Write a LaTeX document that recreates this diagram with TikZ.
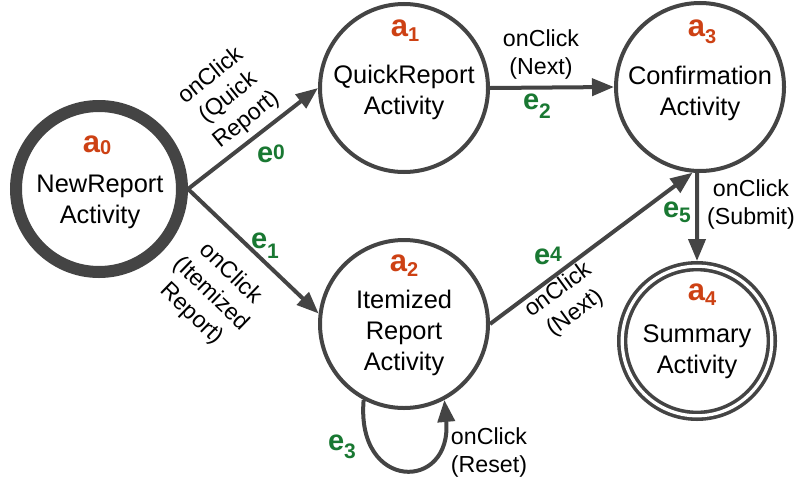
\documentclass[tikz,border=0pt]{standalone}
\usepackage{fontspec}
\setmainfont{Liberation Sans}
\usetikzlibrary{arrows.meta}

\definecolor{ink}{RGB}{68,68,68}
\definecolor{statered}{RGB}{205,65,20}
\definecolor{edgegreen}{RGB}{25,120,50}

% state tag a_i and transition tag e_i (optional argument: subscript drop)
\newcommand{\statetag}[2][2.5pt]{{\color{statered}\bfseries\fontsize{15.5}{16}\selectfont a\fontsize{10}{10}\selectfont\raisebox{-#1}{#2}}}
\newcommand{\edgetag}[2][2pt]{{\color{edgegreen}\bfseries\fontsize{14.5}{15}\selectfont e\fontsize{10.5}{10}\selectfont\raisebox{-#1}{#2}}}

\begin{document}
\begin{tikzpicture}[x=0.5pt, y=-0.5pt,
  state/.style={circle, draw=ink, line width=2pt, minimum size=84pt, inner sep=0pt},
  initstate/.style={state, line width=6pt, minimum size=83pt},
  finalstate/.style={state, double=white, double distance=1.6pt, line width=1.8pt,
                     minimum size=74.8pt, outer sep=2.6pt},
  actname/.style={align=center, font=\fontsize{12.7}{15.5}\selectfont, inner sep=0pt},
  tag/.style={inner sep=0pt},
  event/.style={align=center, font=\fontsize{11.6}{14}\selectfont, inner sep=0pt},
  trans/.style={draw=ink, line width=2pt, -{Triangle[length=11pt,width=8.5pt]}},
]
\useasboundingbox (0,0) rectangle (806,487);

% states
\node[initstate]  (a0) at (99,189)  {};
\node[state]      (a1) at (404,88)  {};
\node[state]      (a2) at (404,324) {};
\node[state]      (a3) at (700,87)  {};
\node[finalstate] (a4) at (697,341) {};

% state tags
\node[tag] (s0) at (97,145)  {\statetag[1.2pt]{0}};
\node[tag] (s1) at (405,31)  {\statetag{1}};
\node[tag] (s2) at (404,266) {\statetag{2}};
\node[tag] (s3) at (702,32)  {\statetag[3.3pt]{3}};
\node[tag] (s4) at (702,295) {\statetag{4}};

% activity names
\node[actname] (n0) at (100,202) {NewReport\\Activity};
\node[actname] (n1) at (404,92)  {QuickReport\\Activity};
\node[actname] (n2) at (404,333) {Itemized\\Report\\Activity};
\node[actname] (n3) at (700,93)  {Confirmation\\Activity};
\node[actname] (n4) at (697,352) {Summary\\Activity};

% transitions
\draw[trans] (a0.east) -- (a1.west);
\draw[trans] (a0.east) -- (a2.173);
\draw[trans] (a1.east) -- (a3.west);
\draw[trans] (a2.east) -- (a3.265);
\draw[trans] (a3.268) -- (a4.north);
\draw[trans] (a2.242) .. controls +(-8,92) and +(8,92) .. (a2.298);

% transition tags
\node[tag] (t0) at (271,154) {\edgetag[-1.5pt]{0}};
\node[tag] (t1) at (265,246) {\edgetag[5pt]{1}};
\node[tag] (t2) at (537,106) {\edgetag[4.5pt]{2}};
\node[tag] (t3) at (342,447) {\edgetag[4pt]{3}};
\node[tag] (t4) at (548,256) {\edgetag[-1.5pt]{4}};
\node[tag] (t5) at (677,212) {\edgetag[2.5pt]{5}};

% events
\node[event, rotate=38.8] (v0) at (229,98)  {onClick\\(Quick\\Report)};
\node[event, rotate=-44]  (v1) at (211,294) {onClick\\(Itemized\\Report)};
\node[event]              (v2) at (541,54)  {onClick\\(Next)};
\node[event, rotate=36.1] (v4) at (567,302) {onClick\\(Next)};
\node[event]              (v5) at (751,204) {onClick\\(Submit)};
\node[event]              (v3) at (489,452) {onClick\\(Reset)};
\end{tikzpicture}
\end{document}
